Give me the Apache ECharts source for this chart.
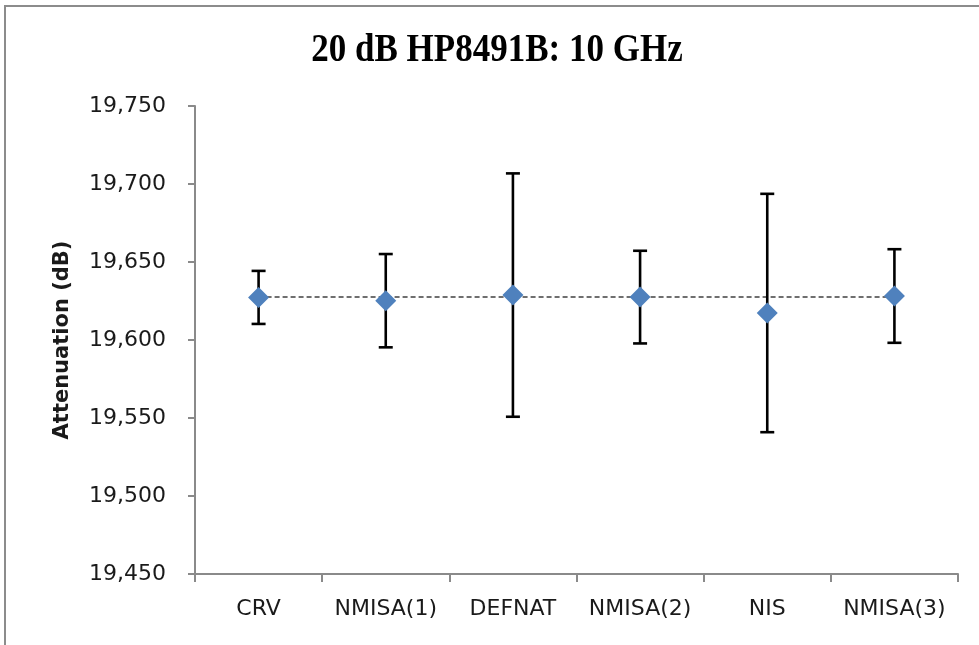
<!DOCTYPE html>
<html>
<head>
<meta charset="utf-8">
<script src="https://cdn.jsdelivr.net/npm/echarts@6/dist/echarts.min.js"></script>
<style>
html,body{margin:0;padding:0;background:#fff;}
#chart{width:979px;height:645px;}
</style>
</head>
<body>
<div id="chart"></div>
<script>
const categories = ['CRV', 'NMISA(1)', 'DEFNAT', 'NMISA(2)', 'NIS', 'NMISA(3)'];
const values = [19.6273, 19.6252, 19.6288, 19.6275, 19.6173, 19.6282];
const uncertainties = [0.0170, 0.0299, 0.0780, 0.0297, 0.0764, 0.0300];
const referenceLine = [19.6276, 19.6276, 19.6276, 19.6276, 19.6276, 19.6276];
const yTicks = { min: 19.45, max: 19.75, interval: 0.05 };
const titleText = '20 dB HP8491B: 10 GHz';
const yAxisTitle = 'Attenuation (dB)';

const chart = echarts.init(document.getElementById('chart'), null, { renderer: 'canvas' });

const errorData = values.map((v, i) => [i, v - uncertainties[i], v + uncertainties[i]]);

const axisColor = '#8a8a8a';

chart.setOption({
  animation: false,
  backgroundColor: '#ffffff',
  graphic: [
    {
      type: 'rect',
      shape: { x: 5, y: 6, width: 1100, height: 1000 },
      style: { fill: 'none', stroke: '#8c8c8c', lineWidth: 2 },
      silent: true, z: -10
    },
    {
      type: 'text',
      x: 497, y: 51,
      scaleY: 1.12,
      style: {
        x: 0, y: 0, text: titleText,
        textAlign: 'center', textVerticalAlign: 'middle',
        font: 'bold 35px "Liberation Serif", "Times New Roman", serif',
        fill: '#000000'
      },
      silent: true
    }
  ],
  grid: { left: 195, right: 21, top: 106, bottom: 71, containLabel: false },
  xAxis: {
    type: 'category',
    data: categories,
    boundaryGap: true,
    axisLine: { lineStyle: { color: axisColor, width: 2 } },
    axisTick: { show: true, length: 8, lineStyle: { color: axisColor, width: 2 } },
    axisLabel: {
      margin: 24, color: '#1a1a1a', fontSize: 22,
      fontFamily: '"DejaVu Sans", sans-serif', interval: 0
    },
    splitLine: { show: false }
  },
  yAxis: {
    type: 'value',
    min: yTicks.min, max: yTicks.max, interval: yTicks.interval,
    name: yAxisTitle,
    nameLocation: 'middle',
    nameGap: 122,
    nameRotate: 90,
    nameTextStyle: {
      fontFamily: '"DejaVu Sans", sans-serif', fontWeight: 'bold',
      fontSize: 21, color: '#1a1a1a'
    },
    axisLine: { show: true, lineStyle: { color: axisColor, width: 2 } },
    axisTick: { show: true, length: 7, lineStyle: { color: axisColor, width: 2 } },
    axisLabel: {
      margin: 29, color: '#1a1a1a', fontSize: 22,
      fontFamily: '"DejaVu Sans", sans-serif',
      formatter: v => v.toFixed(3).replace('.', ',')
    },
    splitLine: { show: false }
  },
  series: [
    {
      type: 'line',
      data: referenceLine,
      symbol: 'none',
      lineStyle: { color: '#404040', width: 1.5, type: [5, 3] },
      z: 1,
      silent: true
    },
    {
      type: 'custom',
      data: errorData,
      z: 2,
      renderItem: function (params, api) {
        const x = api.value(0);
        const lo = api.coord([x, api.value(1)]);
        const hi = api.coord([x, api.value(2)]);
        const cap = 7;
        const style = { stroke: '#000000', lineWidth: 2.6 };
        return {
          type: 'group',
          children: [
            { type: 'line', shape: { x1: hi[0], y1: hi[1], x2: lo[0], y2: lo[1] }, style: style },
            { type: 'line', shape: { x1: hi[0] - cap, y1: hi[1], x2: hi[0] + cap, y2: hi[1] }, style: style },
            { type: 'line', shape: { x1: lo[0] - cap, y1: lo[1], x2: lo[0] + cap, y2: lo[1] }, style: style }
          ]
        };
      },
      encode: { x: 0, y: [1, 2] }
    },
    {
      type: 'scatter',
      data: values,
      symbol: 'diamond',
      symbolSize: 21,
      itemStyle: { color: '#4F81BD', opacity: 1 },
      z: 3
    }
  ]
});
</script>
</body>
</html>
